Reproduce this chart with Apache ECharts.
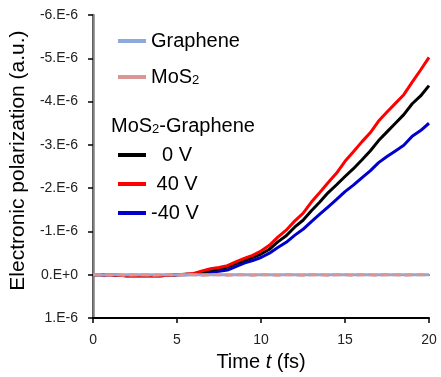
<!DOCTYPE html>
<html>
<head>
<meta charset="utf-8">
<script src="https://cdn.jsdelivr.net/npm/echarts@6/dist/echarts.min.js"></script>
<style>
  html, body { margin: 0; padding: 0; background: #fff; }
  #chart { width: 441px; height: 377px; }
</style>
</head>
<body>
<div id="chart"></div>
<script>
// time axis in fs
const times = [0, 0.5, 1, 1.5, 2, 2.5, 3, 3.5, 4, 4.5,
  5, 5.5, 6, 6.5, 7, 7.5, 8, 8.5, 9, 9.5,
  10, 10.5, 11, 11.5, 12, 12.5, 13, 13.5, 14, 14.5,
  15, 15.5, 16, 16.5, 17, 17.5, 18, 18.5, 19, 19.5, 20]

// polarization values in units of 1E-6 a.u.
const graphene = [0, 0, 0, 0, 0, 0, 0, 0, 0, 0,
  0, 0, 0, 0, 0, 0, 0, 0, 0, 0,
  0, 0, 0, 0, 0, 0, 0, 0, 0, 0,
  0, 0, 0, 0, 0, 0, 0, 0, 0, 0, 0]
const mos2 = [0, 0, 0.01, 0, 0.01, 0, 0, 0.01, 0, 0,
  0.01, 0, 0, 0.01, 0, 0, 0.01, 0, 0, 0.01,
  0, 0, 0.01, 0, 0, 0.01, 0, 0, 0.01, 0,
  0, 0.01, 0, 0, 0.01, 0, 0, 0.01, 0, 0, 0]
const v0 = [0, 0, 0.01, 0.01, 0.02, 0.02, 0.02, 0.02, 0.02, 0.01,
  0, -0.01, -0.02, -0.06, -0.10, -0.14, -0.18, -0.26, -0.33, -0.40,
  -0.48, -0.59, -0.76, -0.90, -1.10, -1.26, -1.48, -1.68, -1.90, -2.08,
  -2.27, -2.45, -2.65, -2.86, -3.10, -3.30, -3.50, -3.70, -3.95, -4.13, -4.37]
const v40 = [0, 0, 0.01, 0.01, 0.02, 0.02, 0.02, 0.02, 0.02, 0.01,
  0, -0.01, -0.03, -0.09, -0.14, -0.17, -0.21, -0.30, -0.38, -0.45,
  -0.55, -0.68, -0.87, -1.03, -1.24, -1.42, -1.68, -1.90, -2.13, -2.35,
  -2.62, -2.84, -3.07, -3.28, -3.55, -3.76, -3.96, -4.16, -4.45, -4.73, -5.02]
const vm40 = [0, 0, 0.01, 0.01, 0.02, 0.02, 0.02, 0.02, 0.02, 0.01,
  0, 0, -0.01, -0.04, -0.06, -0.08, -0.11, -0.19, -0.27, -0.33,
  -0.40, -0.50, -0.63, -0.75, -0.91, -1.05, -1.23, -1.40, -1.57, -1.74,
  -1.92, -2.07, -2.24, -2.40, -2.59, -2.73, -2.86, -2.99, -3.20, -3.33, -3.50]

const FONT = 'Liberation Sans, Arial, sans-serif'

function pairs(ys) {
  return times.map(function (t, i) { return [t, ys[i]] })
}

function lineSeries(name, color, ys, extra) {
  return Object.assign({
    name: name,
    type: 'line',
    color: color,
    data: pairs(ys),
    showSymbol: false,
    lineStyle: { width: 3, color: color },
  }, extra || {})
}

const myChart = echarts.init(document.getElementById('chart'), null, { renderer: 'canvas' })

const legendBase = {
  orient: 'vertical',
  left: 118,
  padding: 0,
  icon: 'rect',
  itemWidth: 28,
  itemHeight: 4,
  selectedMode: false,
  textStyle: {
    fontFamily: FONT,
    fontSize: 20,
    lineHeight: 20,
    color: '#000',
    rich: {
      sub: { fontFamily: FONT, fontSize: 13, lineHeight: 4, verticalAlign: 'bottom', color: '#000' },
    },
  },
}

const option = {
  animation: false,
  backgroundColor: '#fff',
  grid: { left: 90, right: 12, top: 15, bottom: 55 },
  legend: [
    Object.assign({}, legendBase, { top: 31, data: ['Graphene'] }),
    Object.assign({}, legendBase, {
      top: 67,
      data: ['MoS2'],
      formatter: function () { return 'MoS{sub|2}' },
    }),
    Object.assign({}, legendBase, { top: 145, itemGap: 9, data: ['  0 V', ' 40 V', '-40 V'] }),
  ],
  graphic: [
    {
      type: 'text',
      left: 111,
      top: 116,
      style: {
        text: 'MoS{sub|2}-Graphene',
        font: '20px ' + FONT,
        lineHeight: 20,
        fill: '#000',
        rich: {
          sub: { fontFamily: FONT, fontSize: 13, lineHeight: 4, verticalAlign: 'bottom', fill: '#000' },
        },
      },
    },
  ],
  xAxis: [
    {
      type: 'value',
      min: 0,
      max: 20,
      interval: 5,
      name: '{n|Time }{i|t}{n| (fs)}',
      nameLocation: 'middle',
      nameGap: 32,
      nameTextStyle: {
        rich: {
          n: { fontFamily: FONT, fontSize: 20, color: '#000' },
          i: { fontFamily: FONT, fontSize: 20, fontStyle: 'italic', color: '#000' },
        },
      },
      axisLine: { onZero: false, lineStyle: { color: '#000', width: 2 } },
      axisTick: { length: 5, lineStyle: { color: '#000', width: 1.5 } },
      axisLabel: { fontFamily: FONT, fontSize: 14, color: '#222', margin: 15 },
      splitLine: { show: false },
    },
    {
      type: 'value',
      position: 'top',
      min: 0,
      max: 20,
      axisLine: { show: true, lineStyle: { color: '#000', width: 1.5 } },
      axisTick: { show: false },
      axisLabel: { show: false },
      splitLine: { show: false },
    },
  ],
  yAxis: [
    {
      type: 'value',
      inverse: true,
      min: -6,
      max: 1,
      interval: 1,
      name: 'Electronic polarization (a.u.)',
      nameLocation: 'middle',
      nameGap: 48,
      nameTextStyle: { fontFamily: FONT, fontSize: 21, color: '#000', padding: [0, 0, 0, 12] },
      axisLine: { show: true, onZero: false, lineStyle: { color: '#000', width: 2 } },
      axisTick: { show: true, length: 5, lineStyle: { color: '#000', width: 1.5 } },
      axisLabel: {
        fontFamily: FONT,
        fontSize: 14,
        color: '#222',
        margin: 15,
        formatter: function (v) { return v === 0 ? '0.E+0' : v + '.E-6' },
      },
      splitLine: { show: false },
    },
    {
      type: 'value',
      position: 'right',
      inverse: true,
      min: -6,
      max: 1,
      axisLine: { show: true, lineStyle: { color: '#808080', width: 2.5 } },
      axisTick: { show: false },
      axisLabel: { show: false },
      splitLine: { show: false },
    },
  ],
  series: [
    lineSeries('-40 V', '#0000CC', vm40),
    lineSeries('  0 V', '#000000', v0),
    lineSeries(' 40 V', '#FF0000', v40),
    lineSeries('Graphene', '#8EA9DB', graphene),
    lineSeries('MoS2', '#D99694', mos2, { lineStyle: { width: 3, color: '#D99694', type: [8, 4] } }),
  ],
}

myChart.setOption(option)
</script>
</body>
</html>
